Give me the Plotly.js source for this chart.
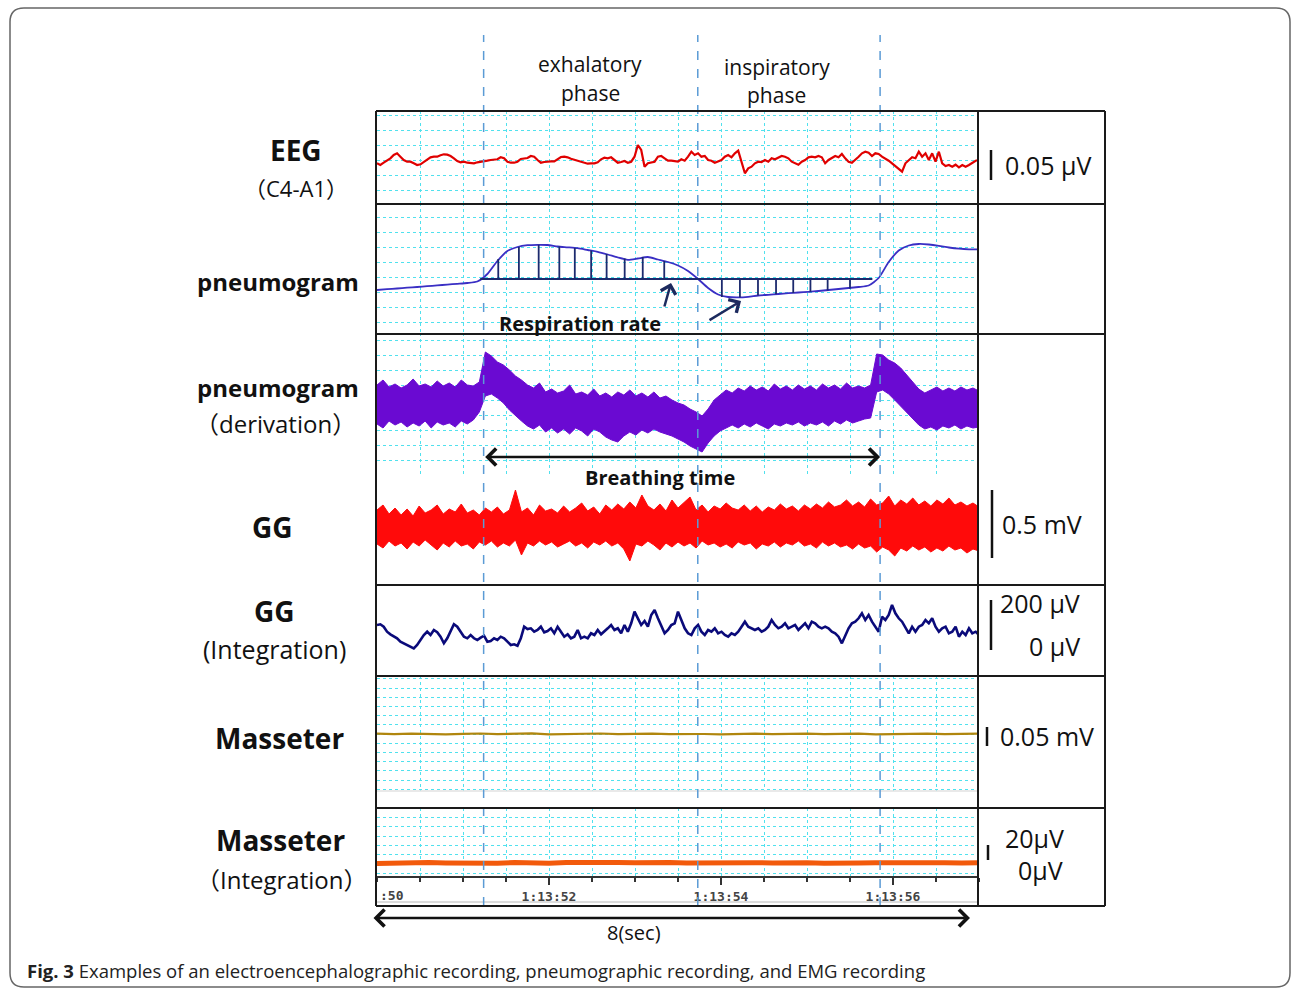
<!DOCTYPE html>
<html><head><meta charset="utf-8">
<script src="https://cdn.plot.ly/plotly-3.0.1.min.js"></script>
<style>html,body{margin:0;padding:0;background:#fff;}#chart{width:1292px;height:989px;}</style>
</head><body><div id="chart"></div>
<script>
// ---------------- DATA ----------------
const T0 = 50, T1 = 57;                         // seconds within 1:13:xx
const timeTickVals = [52, 54, 56];
const timeTickText = ['1:13:52', '1:13:54', '1:13:56'];
const phaseBounds = [51.24, 53.73, 55.85];      // exhalatory / inspiratory phase limits

// EEG (C4-A1), arbitrary units
const eegVals = [
 -3.3,-5,-2.7,-0.7,1.7,5,6.7,3.3,0,-1.7,
 -1.7,-3.3,-5,-4.3,-1.7,0.7,2.7,3.3,3.3,4.7,
 5.7,5.3,4,1.7,-1,-2.3,-1.7,-2.7,-2.7,-3.3,
 -2.3,-2,-1,-0.7,0,0,0.7,2.7,1.7,-1.7,
 -2.7,-2.7,-1.7,1,1.7,2,4,3.3,0,-2.7,
 -2,-1.3,-1.3,-1.3,1.3,3,3.3,2.7,1.3,0.3,
 -0.3,-1,-2.3,-3.7,-3.3,-3.3,-2.3,0.7,2.3,1.7,
 2.7,0,-2.7,-2,-1,-2.7,-1.7,3.3,15,10,
 -6.7,-3.3,-2.3,-1.7,3.3,4,1.7,-0.7,-0.7,-1.3,
 -1.7,
 0.7,-0.7,3.3,8.3,5,6.7,3.3,4,0,
 -0.7,-2.7,-1.7,0,3.3,5,2.7,6.7,9.3,-1.7,
 -13.3,-8.3,-6.7,-3.3,-1.7,-2,0,-1.7,1.7,0.7,
 2.7,4,3.3,1.7,-1.7,-3.3,-4.7,-1.7,0,2.7,
 3.3,2.7,4,2.7,-3.3,0,1.7,4,2.7,6,
 1.7,-1.7,-2.7,0,3.3,6.7,8.3,7.3,4,6.7,
 6,3.3,1.7,-0.7,-3.3,-6,-8.3,-11.7,-3.3,0,
 2.7,1.7,8.3,3.3,6.7,0,6.7,-1.7,8.3,-3.3,
 -6,-5,-6.7,-4.7,-7.3,-5,-6.7,-5,-2.7,-0.7,
 0];

// pneumogram
const pneumoVals = [
 10,10.8,11.5,12.3,13,13.8,14.6,15.4,16.2,17,
 18.5,26,39,49,53,54.8,55.2,55,53.5,52.7,
 51.8,50,48.2,45.5,42.5,40.2,41.5,43,40.5,38,
 34.5,29,21,12,5.5,3,2.6,3.2,4.5,5.2,
 6,6.8,7.5,8.2,9,10,11,12,13,14.5,
 22,38,49.5,54.5,56,55.5,54.2,52.5,51.3,50.7,
 50.7];
// respiration-rate hatching
const hatchBaseLevel = 21;
const hatchBaseSpan = [51.2, 55.76];
const hatchTimes = [51.41,51.65,51.88,52.12,52.30,52.49,52.67,52.88,53.09,53.34,
                    54.01,54.22,54.43,54.64,54.84,55.04,55.24,55.50];
const hatchVals  = [41,53,55.2,53.5,52,49.5,46,41.5,43,39,
                    3,2.6,4.5,5.7,7,8.2,9.5,11.5];

// pneumogram (derivation): upper / lower envelope of the noisy trace
const derivUpper = [
 15,20,13,16,12,15,21,14,16,13,19,14,17,13,20,15,14,
 18,48,44,38,35,30,24,20,15,12,
 17,8,11,7,9,15,6,8,5,11,4,7,3,8,5,10,4,7,3,8,2,4,0,
 -3,-5,-9,-12,-16,-9,0,5,
 10,7,12,9,14,10,13,9,16,11,14,10,15,11,14,10,16,12,15,11,17,12,14,12,15,
 46,45,40,37,32,25,18,11,7,10,13,9,12,9,13,10,12,9];
const derivLower = [
 -24,-28,-21,-25,-22,-27,-23,-26,-21,-28,-22,-25,-23,-27,-21,-24,-20,
 -12,4,6,2,-3,-10,-16,-21,-26,-29,
 -25,-32,-28,-33,-29,-34,-28,-31,-36,-29,-32,-37,-40,-42,-36,-32,-35,-30,-33,-29,-32,-34,-36,
 -39,-42,-46,-49,-52,-43,-36,-31,
 -28,-25,-28,-24,-27,-23,-26,-29,-24,-26,-23,-25,-22,-26,-23,-25,-22,-26,-21,-24,-20,-23,-21,-19,-18,
 8,10,6,0,-6,-12,-18,-25,-29,-27,-30,-26,-28,-25,-29,-26,-28,-27];

// GG (raw EMG): upper / lower envelope
const ggUpper = [
 17,22,13,19,12,18,11,21,14,17,
 22,13,18,15,23,14,17,12,19,15,
 20,13,17,37,15,19,12,22,16,18,
 14,21,15,19,24,16,20,13,22,17,
 23,18,25,19,32,21,17,23,16,27,
 19,25,30,17,22,15,21,18,24,19,
 17,22,16,21,15,20,17,23,18,21,
 16,22,18,23,19,25,20,22,27,21,
 25,20,28,22,24,31,21,27,23,29,
 22,26,21,27,23,29,22,25,21,24,20];
const ggLower = [
 -17,-21,-14,-19,-16,-22,-15,-19,-13,-18,
 -23,-16,-20,-14,-19,-17,-22,-15,-18,-14,
 -20,-16,-19,-13,-28,-16,-19,-14,-18,-15,
 -20,-17,-14,-19,-16,-21,-15,-18,-14,-19,
 -16,-22,-34,-17,-19,-14,-18,-23,-16,-20,
 -15,-19,-16,-21,-14,-18,-16,-20,-17,-21,
 -15,-18,-16,-22,-17,-19,-15,-20,-16,-18,
 -14,-19,-17,-21,-15,-19,-16,-20,-18,-22,
 -17,-21,-19,-25,-20,-23,-29,-21,-24,-19,
 -23,-20,-25,-21,-24,-19,-23,-21,-26,-22,-24];

// GG (integration)
const ggIntVals = [
 10,10.7,8.3,3.3,0.7,-1.7,-3.3,-6.7,-8.3,-10,
 -11.7,-13.3,-10,-5,0,3.3,0,5,2.7,-1.7,
 -8.3,-3.3,3.3,10.7,8.3,3.3,-1.7,-3.3,0,-3.3,
 -5,-2.7,-0.7,-6.7,-6,-3.3,-5,-1.7,-3.3,-6.7,
 -10,-9.3,-10.7,-3.3,8.3,6,6.7,3.3,5,8.3,
 2.7,4,6.7,1.7,8.3,3.3,-1.7,0.7,-3.3,-1.7,
 5,-3.3,-1.7,-3.3,1.7,0,5,0.7,3.3,6.7,
 10,5,6.7,1.7,10,3.3,11.7,23.3,16.7,10,
 14,8.3,20,25,16.7,10,1.7,5,10,11.7,
 23.3,
 15,6.7,1.7,0,6.7,10,3.3,0,5,
 3.3,6.7,1.7,3.3,0,-1.7,1.7,0,3.3,8.3,
 13.3,8.3,6.7,5,6.7,3.3,5,8.3,15,10,
 6.7,8.3,11.7,6.7,8.3,10,5,8.3,11.7,6.7,
 13.3,11.7,8.3,6.7,8.3,6.7,3.3,1.7,-1.7,-8.3,
 0,6.7,11.7,13.3,16.7,21.7,15,20,13.3,8.3,
 3.3,18.3,15,20,30,21.7,16.7,13.3,6.7,1.7,
 8.3,3.3,8.3,10,15,11.7,16.7,8.3,3.3,6.7,
 8.3,1.7,3.3,8.3,-1.7,3.3,0,6.7,1.7,3.3,
 0];

// Masseter and Masseter (integration)
const masseterVals = [0.3,-0.2,0.4,0.1,-0.4,0.2,0.5,-0.1,0.3,0.6,-0.3,0.2,0.1,0.5,-0.2,0.3,0.4,-0.1,
                      0.2,0,-0.3,0.3,0.4,-0.2,0.1,0.3,-0.1,0.2,0.4,-0.3,0.2,0.1,0.3,-0.2,0.2,0.3];
const masseterIntVals = [-0.5,0.2,-0.3,0.4,0,-0.4,0.3,-0.2,0.5,0.1,-0.3,0.6,0.2,-0.1,0.4,0.3,-0.2,0.5,
                         0.1,0.4,-0.1,0.6,0.3,0,0.5,0.2,-0.2,0.4,0.1,0.3,0.5,0,0.4,0.2,-0.1,0.3];

// ---------------- LAYOUT HELPERS ----------------
const W = 1292, H = 989;
const px = x => x / W;
const py = y => 1 - y / H;
const times = vals => { const dt = (T1 - T0) / (vals.length - 1); return vals.map((_, i) => T0 + i * dt); };
const CYAN = 'rgb(80,225,238)';
const FONT = 'Open Sans, Noto Sans CJK JP, sans-serif';
const FW = c => '<span style="font-family:Noto Sans CJK JP">' + c + '</span>';

function yax(top, bot, range, grid, tick0, dtick, anchor) {
  return {domain: [py(bot), py(top)], range: range, anchor: anchor,
    showgrid: grid, gridcolor: CYAN, griddash: 'dot', gridwidth: 1,
    tickmode: 'linear', tick0: tick0, dtick: dtick,
    showticklabels: false, ticks: '', zeroline: false, showline: false, fixedrange: true};
}

// ---------------- TRACES ----------------
const hx = [], hy = [];
hatchTimes.forEach((t, i) => { hx.push(t, t, null); hy.push(hatchBaseLevel, hatchVals[i], null); });

const PURPLE = '#6a0ad2', RED = '#ff0a0a';
const traces = [
  {x: times(eegVals), y: eegVals, xaxis: 'x', yaxis: 'y', mode: 'lines', line: {color: '#e00000', width: 2.2}},
  {x: times(pneumoVals), y: pneumoVals, xaxis: 'x', yaxis: 'y2', mode: 'lines', line: {color: '#3a2fc4', width: 1.8, shape: 'spline', smoothing: 0.6}},
  {x: hatchBaseSpan, y: [hatchBaseLevel, hatchBaseLevel], xaxis: 'x', yaxis: 'y2', mode: 'lines', line: {color: '#1c2a6e', width: 2}},
  {x: hx, y: hy, xaxis: 'x', yaxis: 'y2', mode: 'lines', line: {color: '#1c2a6e', width: 1.8}, connectgaps: false},
  {x: times(derivLower), y: derivLower, xaxis: 'x', yaxis: 'y3', mode: 'lines', line: {color: PURPLE, width: 1}},
  {x: times(derivUpper), y: derivUpper, xaxis: 'x', yaxis: 'y3', mode: 'lines', line: {color: PURPLE, width: 1}, fill: 'tonexty', fillcolor: PURPLE},
  {x: times(ggLower), y: ggLower, xaxis: 'x2', yaxis: 'y4', mode: 'lines', line: {color: RED, width: 1}},
  {x: times(ggUpper), y: ggUpper, xaxis: 'x2', yaxis: 'y4', mode: 'lines', line: {color: RED, width: 1}, fill: 'tonexty', fillcolor: RED},
  {x: times(ggIntVals), y: ggIntVals, xaxis: 'x2', yaxis: 'y5', mode: 'lines', line: {color: '#0a0a7a', width: 2.6}},
  {x: times(masseterVals), y: masseterVals, xaxis: 'x', yaxis: 'y6', mode: 'lines', line: {color: '#b0860e', width: 2.2}},
  {x: times(masseterIntVals), y: masseterIntVals, xaxis: 'x', yaxis: 'y7', mode: 'lines', line: {color: '#f25a0c', width: 5}}
];

// ---------------- SHAPES ----------------
const shapes = [];
const BORDER = '#1a1a1a';
function pline(x0, y0, x1, y1, color, width, dash) {
  shapes.push({type: 'line', xref: 'paper', yref: 'paper', x0: px(x0), y0: py(y0), x1: px(x1), y1: py(y1),
    line: {color: color, width: width, dash: dash || 'solid'}, layer: 'above'});
}
// outer rounded frame
(function () {
  const x0 = px(10), x1 = px(1290), yT = py(8), yB = py(987), rx = 14 / W, ry = 14 / H;
  shapes.push({type: 'path', xref: 'paper', yref: 'paper', layer: 'below',
    path: `M ${x0 + rx},${yT} L ${x1 - rx},${yT} Q ${x1},${yT} ${x1},${yT - ry} L ${x1},${yB + ry} Q ${x1},${yB} ${x1 - rx},${yB} L ${x0 + rx},${yB} Q ${x0},${yB} ${x0},${yB + ry} L ${x0},${yT - ry} Q ${x0},${yT} ${x0 + rx},${yT} Z`,
    line: {color: '#666', width: 1.5}});
})();
// light separators
pline(377, 791, 978, 791, '#e2e2e2', 1.5);
pline(377, 902, 978, 902, '#dcdcdc', 2);
// phase dashed lines (data x)
phaseBounds.forEach(t => shapes.push({type: 'line', xref: 'x', yref: 'paper', x0: t, x1: t, y0: py(906), y1: py(35),
  line: {color: '#5b9bd5', width: 1.5, dash: 'dash'}, layer: 'above'}));
// panel borders
[111, 204, 334, 585, 676, 808, 906].forEach(y => pline(376, y, 1105, y, BORDER, 2));
[376, 978, 1105].forEach(x => pline(x, 111, x, 906, BORDER, 2));
// scale bars
pline(991, 150, 991, 180, '#111', 2.5);
pline(992, 490, 992, 558, '#111', 2.5);
pline(991, 600, 991, 650, '#111', 2.5);
pline(987, 727, 987, 746, '#111', 2.5);
pline(988, 845, 988, 860, '#111', 2.5);

// ---------------- ANNOTATIONS ----------------
const ann = [];
function txt(x, y, text, size, opts) {
  ann.push(Object.assign({xref: 'paper', yref: 'paper', x: px(x), y: py(y), text: text, showarrow: false,
    xanchor: 'center', yanchor: 'middle', font: {family: FONT, size: size, color: '#111'}}, opts || {}));
}
txt(590, 64, 'exhalatory', 21); txt(590, 93, 'phase', 21);
txt(777, 67, 'inspiratory', 21); txt(777, 95, 'phase', 21);
txt(296, 150, '<b>EEG</b>', 28); txt(296, 187, FW('（') + 'C4-A1' + FW('）'), 22);
txt(278, 281, '<b>pneumogram</b>', 24);
txt(278, 388, '<b>pneumogram</b>', 24); txt(275, 423, FW('（') + 'derivation' + FW('）'), 24);
txt(272, 527, '<b>GG</b>', 28);
txt(274, 611, '<b>GG</b>', 28); txt(274, 649, '(Integration)', 25);
txt(279, 738, '<b>Masseter</b>', 28);
txt(280, 840, '<b>Masseter</b>', 28); txt(281, 878, FW('（') + 'Integration' + FW('）'), 24);
txt(1003, 165, '0.05 μV', 25, {xanchor: 'left'});
txt(1000, 524, '0.5 mV', 25, {xanchor: 'left'});
txt(1082, 603, '200 μV', 25, {xanchor: 'right'});
txt(1082, 646, '0 μV', 25, {xanchor: 'right'});
txt(998, 736, '0.05 mV', 25, {xanchor: 'left'});
txt(1003, 838, '20μV', 25, {xanchor: 'left'});
txt(1016, 870, '0μV', 25, {xanchor: 'left'});
txt(580, 323, '<b>Respiration rate</b>', 20);
txt(660, 477, '<b>Breathing time</b>', 20);
txt(634, 932, '8(sec)', 20);
txt(25, 970, '<b>Fig. 3</b> Examples of an electroencephalographic recording, pneumographic recording, and EMG recording', 18.5, {xanchor: 'left', font: {family: FONT, size: 18.5, color: '#222'}});
txt(378, 895, ':50', 13, {xanchor: 'left', font: {family: 'DejaVu Sans Mono', size: 13, color: '#444', weight: 'bold'}});

// arrows
ann.push({xref: 'x', yref: 'paper', x: phaseBounds[2], y: py(457), axref: 'x', ax: phaseBounds[0], ayref: 'pixel', ay: 0,
  text: '', showarrow: true, arrowside: 'end+start', arrowhead: 4, arrowsize: 1.3, arrowwidth: 2.5, arrowcolor: '#111'});
ann.push({xref: 'paper', yref: 'paper', x: px(970), y: py(918), ax: -(970 - 372), ay: 0,
  text: '', showarrow: true, arrowside: 'end+start', arrowhead: 4, arrowsize: 1.3, arrowwidth: 2.5, arrowcolor: '#111'});
ann.push({xref: 'paper', yref: 'paper', x: px(671), y: py(283), ax: -7, ay: 25,
  text: '', showarrow: true, arrowhead: 4, arrowsize: 1.2, arrowwidth: 2.5, arrowcolor: '#1c2a5e'});
ann.push({xref: 'paper', yref: 'paper', x: px(741), y: py(301), ax: -33, ay: 20,
  text: '', showarrow: true, arrowhead: 4, arrowsize: 1.2, arrowwidth: 2.5, arrowcolor: '#1c2a5e'});

// ---------------- LAYOUT ----------------
const layout = {
  width: W, height: H, margin: {l: 0, r: 0, t: 0, b: 0},
  paper_bgcolor: '#fff', plot_bgcolor: '#fff', showlegend: false, hovermode: false,
  font: {family: FONT, color: '#111'},
  xaxis: {domain: [px(377), px(979)], range: [T0, T1], anchor: 'y7', fixedrange: true,
    showgrid: true, gridcolor: CYAN, griddash: 'dot', gridwidth: 1,
    tickmode: 'array', tickvals: timeTickVals, ticktext: timeTickText,
    ticks: 'outside', ticklen: 7, tickwidth: 1.5, tickcolor: '#333',
    showline: true, linecolor: '#333', linewidth: 2, zeroline: false,
    tickfont: {family: 'DejaVu Sans Mono', size: 13, color: '#444', weight: 'bold'},
    minor: {tickmode: 'linear', tick0: T0, dtick: 0.5, ticks: 'outside', ticklen: 4, tickwidth: 1.2, tickcolor: '#333',
      showgrid: true, gridcolor: CYAN, griddash: 'dot', gridwidth: 1}},
  xaxis2: {domain: [px(377), px(979)], range: [T0, T1], matches: 'x', anchor: 'y5', visible: false, showgrid: false, fixedrange: true},
  yaxis:  yax(111, 203, [-43, 49], true, 0, 15, 'x'),
  yaxis2: yax(203, 333, [-33, 97], true, 8, 15, 'x'),
  yaxis3: yax(333, 475, [-75, 67], true, 0, 15, 'x'),
  yaxis4: yax(475, 585, [-58, 52], false, 0, 15, 'x2'),
  yaxis5: yax(585, 676, [-41, 50], false, 0, 15, 'x2'),
  yaxis6: yax(676, 791, [-57, 58], true, 0, 9.2, 'x'),
  yaxis7: yax(808, 876, [-13, 55], true, 8.4, 9.3, 'x'),
  shapes: shapes,
  annotations: ann
};

Plotly.newPlot('chart', traces, layout, {displayModeBar: false, staticPlot: true});
</script>
</body></html>
